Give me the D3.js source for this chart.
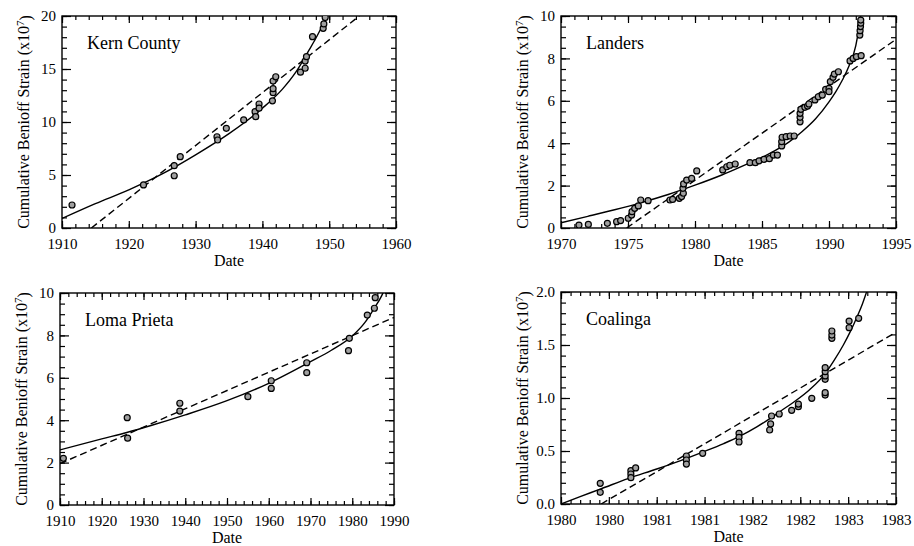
<!DOCTYPE html>
<html>
<head>
<meta charset="utf-8">
<script src="https://cdn.jsdelivr.net/npm/d3@7"></script>
<style>
  body { margin: 0; background: #fff; }
  svg, svg text { font-family: "Liberation Serif", Tinos, "Times New Roman", Times, "DejaVu Serif", serif; }
</style>
</head>
<body>
<svg class="chart"></svg>
<script>
// ---- Kern County ----
const kernDates  = [1911.5, 1922.2, 1926.8, 1926.8, 1927.7, 1933.2, 1933.3, 1934.6, 1937.2, 1938.9, 1939.0, 1939.5, 1939.5, 1941.5, 1941.6, 1941.6, 1941.6, 1942.0, 1945.7, 1946.4, 1946.4, 1946.6, 1947.5, 1949.1, 1949.2, 1949.4];
const kernStrain = [2.17, 4.06, 5.88, 4.93, 6.73, 8.61, 8.3, 9.4, 10.2, 10.97, 10.5, 11.7, 11.3, 12.0, 12.77, 13.14, 13.87, 14.27, 14.7, 15.07, 15.75, 16.16, 18.05, 18.84, 19.25, 19.85];
const kernFitDates  = [1910, 1915, 1920, 1925, 1930, 1935, 1940, 1943, 1945, 1947, 1948, 1949, 1949.8];
const kernFitStrain = [0.9, 2.3, 3.6, 5.1, 6.9, 8.9, 11.3, 13.1, 14.7, 16.8, 17.9, 19.1, 20.1];
const kernLineDates  = [1914.4, 1954.5];
const kernLineStrain = [0, 20];

// ---- Landers ----
const landersDates  = [1971.34, 1972.04, 1973.46, 1974.15, 1974.45, 1975.02, 1975.27, 1975.3, 1975.5, 1975.77, 1975.95, 1976.5, 1978.13, 1978.33, 1978.83, 1979.0, 1979.13, 1979.1, 1979.15, 1979.38, 1979.75, 1980.13, 1982.07, 1982.37, 1982.6, 1983.0, 1984.1, 1984.5, 1984.78, 1985.15, 1985.55, 1985.85, 1986.15, 1986.47, 1986.47, 1986.5, 1986.8, 1987.1, 1987.4, 1987.84, 1987.84, 1987.84, 1987.9, 1988.2, 1988.4, 1988.5, 1988.95, 1989.2, 1989.5, 1989.75, 1990.0, 1990.0, 1990.1, 1990.3, 1990.4, 1990.7, 1991.57, 1991.8, 1992.05, 1992.4, 1992.3, 1992.32, 1992.35, 1992.37, 1992.37];
const landersStrain = [0.14, 0.17, 0.22, 0.3, 0.35, 0.46, 0.61, 0.77, 0.93, 1.04, 1.32, 1.29, 1.32, 1.35, 1.4, 1.48, 1.64, 1.87, 2.08, 2.26, 2.34, 2.69, 2.74, 2.89, 2.96, 3.02, 3.08, 3.08, 3.17, 3.24, 3.27, 3.44, 3.44, 3.87, 4.07, 4.28, 4.31, 4.34, 4.34, 5.01, 5.22, 5.41, 5.6, 5.69, 5.75, 5.85, 6.04, 6.19, 6.27, 6.54, 6.59, 6.43, 6.9, 7.11, 7.26, 7.37, 7.88, 8.0, 8.08, 8.13, 9.1, 9.31, 9.5, 9.66, 9.81];
const landersFitDates  = [1970, 1972, 1974, 1976, 1978, 1980, 1982, 1984, 1985, 1986, 1987, 1988, 1989, 1990, 1990.5, 1991, 1991.5, 1992, 1992.3, 1992.4];
const landersFitStrain = [0.25, 0.55, 0.86, 1.2, 1.58, 2.02, 2.5, 3.05, 3.33, 3.66, 4.05, 4.55, 5.15, 5.95, 6.42, 6.98, 7.65, 8.6, 9.7, 10.2];
const landersLineDates  = [1974.9, 1995];
const landersLineStrain = [0, 8.9];

// ---- Loma Prieta ----
const lomaDates  = [1910.8, 1926.1, 1926.2, 1938.7, 1938.7, 1955.0, 1960.6, 1960.6, 1969.1, 1969.1, 1979.1, 1979.3, 1983.6, 1985.3, 1985.5];
const lomaStrain = [2.2, 4.12, 3.15, 4.8, 4.43, 5.11, 5.86, 5.5, 6.71, 6.24, 7.28, 7.86, 8.96, 9.28, 9.78];
const lomaFitDates  = [1910, 1920, 1926, 1932, 1940, 1950, 1960, 1970, 1975, 1980, 1983, 1985, 1987, 1987.8];
const lomaFitStrain = [2.6, 3.12, 3.42, 3.76, 4.25, 4.92, 5.74, 6.76, 7.3, 7.97, 8.6, 9.2, 9.85, 10.2];
const lomaLineDates  = [1910, 1990];
const lomaLineStrain = [1.95, 8.85];

// ---- Coalinga ----
const coalDates  = [1980.41, 1980.41, 1980.73, 1980.73, 1980.73, 1980.78, 1981.31, 1981.31, 1981.31, 1981.48, 1981.86, 1981.86, 1981.86, 1982.18, 1982.19, 1982.2, 1982.28, 1982.41, 1982.48, 1982.48, 1982.62, 1982.76, 1982.76, 1982.76, 1982.76, 1982.76, 1982.76, 1982.83, 1982.83, 1982.83, 1983.01, 1983.01, 1983.11];
const coalStrain = [0.195, 0.11, 0.314, 0.283, 0.248, 0.34, 0.453, 0.415, 0.377, 0.478, 0.667, 0.629, 0.585, 0.698, 0.755, 0.83, 0.849, 0.884, 0.918, 0.943, 0.997, 1.028, 1.05, 1.176, 1.208, 1.248, 1.286, 1.563, 1.594, 1.632, 1.663, 1.726, 1.752];
const coalFitDates  = [1980.0, 1980.2, 1980.41, 1980.7, 1981.0, 1981.25, 1981.48, 1981.7, 1981.87, 1982.05, 1982.19, 1982.3, 1982.43, 1982.6, 1982.76, 1982.85, 1982.95, 1983.03, 1983.09, 1983.15, 1983.2];
const coalFitStrain = [0.0, 0.07, 0.14, 0.24, 0.33, 0.41, 0.49, 0.57, 0.64, 0.73, 0.81, 0.88, 0.96, 1.08, 1.23, 1.35, 1.5, 1.64, 1.76, 1.89, 2.02];
const coalLineDates  = [1980.42, 1983.5];
const coalLineStrain = [0, 1.62];

// ---- tick labels ----
const kernXTicks = [1910, 1920, 1930, 1940, 1950, 1960];
const kernYTicks = [0, 5, 10, 15, 20];
const landersXTicks = [1970, 1975, 1980, 1985, 1990, 1995];
const landersYTicks = [0, 2, 4, 6, 8, 10];
const lomaXTicks = [1910, 1920, 1930, 1940, 1950, 1960, 1970, 1980, 1990];
const lomaYTicks = [0, 2, 4, 6, 8, 10];
const coalXTicks = [1980, 1980.5, 1981, 1981.5, 1982, 1982.5, 1983, 1983.5];
const coalXLabels = ["1980", "1980", "1981", "1981", "1982", "1982", "1983", "1983"];
const coalYTicks = [0, 0.5, 1, 1.5, 2];
const coalYLabels = ["0.0", "0.5", "1.0", "1.5", "2.0"];

const FONT = '"Liberation Serif", Tinos, "Times New Roman", Times, "DejaVu Serif", serif';

const svg = d3.select(".chart").attr("width", 914).attr("height", 546)
    .attr("font-family", FONT);

function panel(o, id) {
    const x = d3.scaleLinear().domain(o.xDomain).range([o.left, o.right]);
    const y = d3.scaleLinear().domain(o.yDomain).range([o.bottom, o.top]);
    const g = svg.append("g");

    g.append("clipPath").attr("id", id)
        .append("rect")
        .attr("x", o.left).attr("y", o.top)
        .attr("width", o.right - o.left).attr("height", o.bottom - o.top);

    const xMinor = d3.range(o.xDomain[0], o.xDomain[1] + 1e-9, o.xMinor);
    const yMinor = d3.range(o.yDomain[0], o.yDomain[1] + 1e-9, o.yMinor);

    // minor ticks on all four sides
    [[d3.axisBottom(x), o.bottom], [d3.axisTop(x), o.top]].forEach(([ax, pos]) => {
        g.append("g").attr("transform", `translate(0,${pos})`)
            .call(ax.tickValues(xMinor).tickSize(-4).tickFormat(""))
            .call(a => a.select(".domain").remove());
    });
    [[d3.axisLeft(y), o.left], [d3.axisRight(y), o.right]].forEach(([ax, pos]) => {
        g.append("g").attr("transform", `translate(${pos},0)`)
            .call(ax.tickValues(yMinor).tickSize(-5).tickFormat(""))
            .call(a => a.select(".domain").remove());
    });

    // major ticks + labels
    g.append("g").attr("transform", `translate(0,${o.bottom})`)
        .call(d3.axisBottom(x).tickValues(o.xTicks).tickSize(-7).tickPadding(10)
            .tickFormat((d, i) => o.xLabels ? o.xLabels[i] : d))
        .call(a => a.select(".domain").remove());
    g.append("g").attr("transform", `translate(0,${o.top})`)
        .call(d3.axisTop(x).tickValues(o.xTicks).tickSize(-7).tickFormat(""))
        .call(a => a.select(".domain").remove());
    g.append("g").attr("transform", `translate(${o.left},0)`)
        .call(d3.axisLeft(y).tickValues(o.yTicks).tickSize(-9).tickPadding(6)
            .tickFormat((d, i) => o.yLabels ? o.yLabels[i] : d))
        .call(a => a.select(".domain").remove());
    g.append("g").attr("transform", `translate(${o.right},0)`)
        .call(d3.axisRight(y).tickValues(o.yTicks).tickSize(-9).tickFormat(""))
        .call(a => a.select(".domain").remove());

    g.selectAll("g").attr("font-family", FONT);
    g.selectAll(".tick line").attr("stroke", "#000").attr("stroke-width", 1.2);
    g.selectAll(".tick text").attr("font-size", 15).attr("fill", "#000");

    // frame
    g.append("rect")
        .attr("x", o.left).attr("y", o.top)
        .attr("width", o.right - o.left).attr("height", o.bottom - o.top)
        .attr("fill", "none").attr("stroke", "#000").attr("stroke-width", 1.4);

    const line = d3.line().x(d => x(d[0])).y(d => y(d[1]));
    const plot = g.append("g").attr("clip-path", `url(#${id})`);

    plot.append("path")
        .datum(d3.zip(o.lineDates, o.lineStrain))
        .attr("fill", "none").attr("stroke", "#000").attr("stroke-width", 1.4)
        .attr("stroke-dasharray", "7,4")
        .attr("d", line);

    plot.append("path")
        .datum(d3.zip(o.fitDates, o.fitStrain))
        .attr("fill", "none").attr("stroke", "#000").attr("stroke-width", 1.4)
        .attr("d", d3.line().curve(d3.curveMonotoneX).x(d => x(d[0])).y(d => y(d[1])));

    plot.selectAll("circle")
        .data(d3.zip(o.dates, o.strain))
        .join("circle")
        .attr("cx", d => x(d[0])).attr("cy", d => y(d[1]))
        .attr("r", 3)
        .attr("fill", "#a0a0a0").attr("stroke", "#000").attr("stroke-width", 1.2);

    // name inside plot
    g.append("text")
        .attr("x", o.left + 25).attr("y", o.top + 33)
        .attr("font-size", 18)
        .text(o.name);

    // x title
    g.append("text")
        .attr("x", (o.left + o.right) / 2).attr("y", o.bottom + 38)
        .attr("text-anchor", "middle").attr("font-size", 16)
        .text("Date");

    // y title
    const yt = g.append("text")
        .attr("transform", `translate(${o.left - 39},${(o.top + o.bottom) / 2}) rotate(-90)`)
        .attr("text-anchor", "middle").attr("font-size", 16)
        .attr("dy", "0.35em");
    yt.append("tspan").text("Cumulative Benioff Strain (x10");
    yt.append("tspan").attr("dy", "-0.45em").attr("font-size", 11).text("7");
    yt.append("tspan").attr("dy", "0.45em").text(")");
}

panel({
    name: "Kern County", left: 62, right: 396, top: 16, bottom: 228,
    xDomain: [1910, 1960], yDomain: [0, 20], xMinor: 2, yMinor: 1,
    xTicks: kernXTicks, yTicks: kernYTicks,
    dates: kernDates, strain: kernStrain,
    fitDates: kernFitDates, fitStrain: kernFitStrain,
    lineDates: kernLineDates, lineStrain: kernLineStrain
}, "clip-kern");

panel({
    name: "Landers", left: 561, right: 896, top: 16, bottom: 228,
    xDomain: [1970, 1995], yDomain: [0, 10], xMinor: 1, yMinor: 0.5,
    xTicks: landersXTicks, yTicks: landersYTicks,
    dates: landersDates, strain: landersStrain,
    fitDates: landersFitDates, fitStrain: landersFitStrain,
    lineDates: landersLineDates, lineStrain: landersLineStrain
}, "clip-landers");

panel({
    name: "Loma Prieta", left: 60, right: 394, top: 293, bottom: 505,
    xDomain: [1910, 1990], yDomain: [0, 10], xMinor: 2, yMinor: 0.5,
    xTicks: lomaXTicks, yTicks: lomaYTicks,
    dates: lomaDates, strain: lomaStrain,
    fitDates: lomaFitDates, fitStrain: lomaFitStrain,
    lineDates: lomaLineDates, lineStrain: lomaLineStrain
}, "clip-loma");

panel({
    name: "Coalinga", left: 561, right: 896, top: 292, bottom: 504,
    xDomain: [1980, 1983.5], yDomain: [0, 2], xMinor: 0.1, yMinor: 0.1,
    xTicks: coalXTicks, xLabels: coalXLabels, yTicks: coalYTicks, yLabels: coalYLabels,
    dates: coalDates, strain: coalStrain,
    fitDates: coalFitDates, fitStrain: coalFitStrain,
    lineDates: coalLineDates, lineStrain: coalLineStrain
}, "clip-coal");
</script>
</body>
</html>
